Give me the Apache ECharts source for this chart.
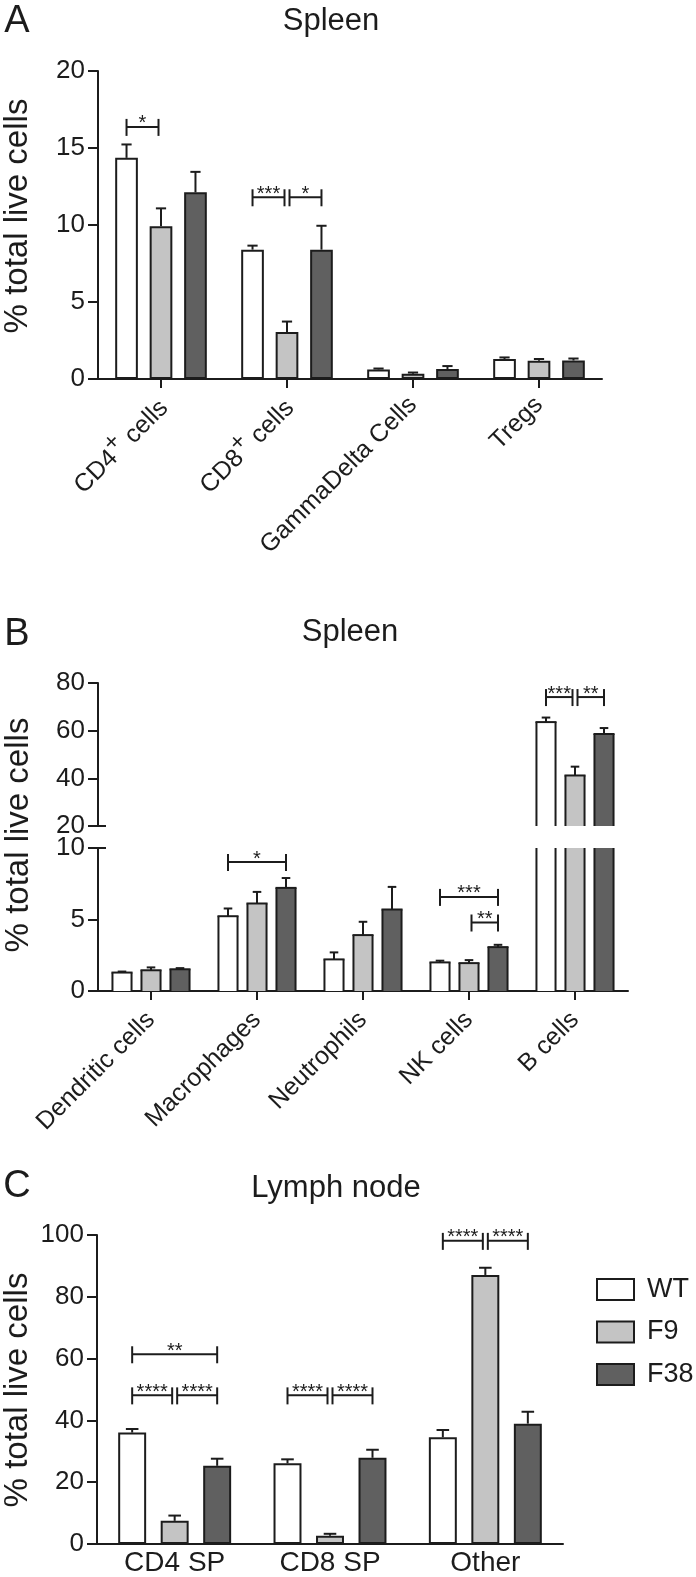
<!DOCTYPE html>
<html><head><meta charset="utf-8">
<script src="https://cdn.jsdelivr.net/npm/echarts@6/dist/echarts.min.js"></script>
<style>html,body{margin:0;padding:0;background:#fff}#c{width:696px;height:1577px}</style>
</head><body><div id="c"></div>
<script>
// ---------------- data ----------------
const groups = ['WT', 'F9', 'F38'];

// Panel A – Spleen (T cell subsets)
const aCategories = ['CD4⁺ cells', 'CD8⁺ cells', 'GammaDelta Cells', 'Tregs'];
const aWT     = [14.36, 8.40, 0.62, 1.30];
const aWTErr  = [0.87, 0.26, 0.06, 0.10];
const aF9     = [9.92, 3.05, 0.34, 1.19];
const aF9Err  = [1.16, 0.68, 0.08, 0.11];
const aF38    = [12.12, 8.40, 0.65, 1.20];
const aF38Err = [1.33, 1.55, 0.19, 0.13];
const aTicks  = [0, 5, 10, 15, 20];
// [category, from group, to group, bracket height, label]
const aSig = [[0, 0, 1, 16.37, '*'], [1, 0, 1, 11.8, '***'], [1, 1, 2, 11.8, '*']];

// Panel B – Spleen (innate / B cells), broken axis
const bCategories = ['Dendritic cells', 'Macrophages', 'Neutrophils', 'NK cells', 'B cells'];
const bWT     = [1.29, 5.23, 2.21, 2.00, 63.6];
const bWTErr  = [0.07, 0.54, 0.49, 0.12, 1.9];
const bF9     = [1.45, 6.12, 3.91, 1.95, 41.2];
const bF9Err  = [0.20, 0.81, 0.93, 0.21, 3.7];
const bF38    = [1.52, 7.21, 5.70, 3.07, 58.6];
const bF38Err = [0.08, 0.69, 1.58, 0.16, 2.5];
const bLowerTicks = [0, 5, 10];
const bUpperTicks = [20, 40, 60, 80];
const bSigLower = [[1, 0, 2, 9.02, '*'], [3, 0, 2, 6.58, '***'], [3, 1, 2, 4.79, '**']];
const bSigUpper = [[4, 0, 1, 74.1, '***'], [4, 1, 2, 74.1, '**']];

// Panel C – Lymph node
const cCategories = ['CD4 SP', 'CD8 SP', 'Other'];
const cWT     = [36.06, 26.1, 34.55];
const cWTErr  = [1.15, 1.3, 2.35];
const cF9     = [7.5, 2.7, 87.07];
const cF9Err  = [1.7, 0.6, 2.33];
const cF38    = [25.3, 27.9, 38.95];
const cF38Err = [2.3, 2.6, 3.85];
const cTicks  = [0, 20, 40, 60, 80, 100];
const cSig = [[0, 0, 2, 61.4, '**'], [0, 0, 1, 48.1, '****'], [0, 1, 2, 48.1, '****'],
              [1, 0, 1, 48.1, '****'], [1, 1, 2, 48.1, '****'],
              [2, 0, 1, 98.1, '****'], [2, 1, 2, 98.1, '****']];

// ---------------- style ----------------
const FONT = '"Liberation Sans", Arial, Helvetica, sans-serif';
const INK = '#1c1c1c';
const COLORS = ['#ffffff', '#c4c4c4', '#606060'];
const BAR_FRAC = 0.18;   // bar width as fraction of category band
const GAP_FRAC = 0.52;   // gap between bars as fraction of bar width
const CAP_FRAC = 0.45;   // error-bar cap width as fraction of bar width

function geom(api) {
  const band = api.size([1, 0])[0];
  const bw = band * BAR_FRAC;
  return { bw: bw, step: bw * (1 + GAP_FRAC) };
}

function errSeries(name, vals, errs, gi, xi, yi, keep) {
  const data = [];
  vals.forEach((v, i) => { if (!keep || keep(v)) data.push([i, v, errs[i]]); });
  return {
    type: 'custom', name: name + ' err', xAxisIndex: xi, yAxisIndex: yi, silent: true, z: 5,
    data: data,
    renderItem: function (params, api) {
      const g = geom(api);
      const cat = api.value(0), v = api.value(1), e = api.value(2);
      const p1 = api.coord([cat, v]), p2 = api.coord([cat, v + e]);
      const x = p1[0] + (gi - 1) * g.step;
      const hw = g.bw * CAP_FRAC / 2;
      const st = { stroke: INK, lineWidth: 2 };
      return { type: 'group', children: [
        { type: 'line', shape: { x1: x, y1: p1[1], x2: x, y2: p2[1] }, style: st },
        { type: 'line', shape: { x1: x - hw, y1: p2[1], x2: x + hw, y2: p2[1] }, style: st }
      ] };
    }
  };
}

function barSeries(name, vals, gi, xi, yi) {
  return {
    type: 'bar', name: name, xAxisIndex: xi, yAxisIndex: yi, data: vals,
    barWidth: (BAR_FRAC * 100) + '%', barGap: (GAP_FRAC * 100) + '%', silent: true,
    itemStyle: { color: COLORS[gi], borderColor: INK, borderWidth: 2 }
  };
}

// bars of the broken-axis panel: open ends where the axis is broken
function brokenBarSeries(name, vals, gi, xi, yi, range) {
  return {
    type: 'custom', name: name, xAxisIndex: xi, yAxisIndex: yi, silent: true, z: 3,
    data: vals.map((v, i) => [i, v]),
    renderItem: function (params, api) {
      const v = api.value(1), cat = api.value(0);
      if (v <= range[0]) return null;
      const g = geom(api);
      const top = Math.min(v, range[1]);
      const pb = api.coord([cat, range[0]]), pt = api.coord([cat, top]);
      const xc = pb[0] + (gi - 1) * g.step;
      const xl = xc - g.bw / 2, xr = xc + g.bw / 2;
      const st = { stroke: INK, lineWidth: 2 };
      const ch = [
        { type: 'rect', shape: { x: xl, y: pt[1], width: g.bw, height: pb[1] - pt[1] }, style: { fill: COLORS[gi] } },
        { type: 'line', shape: { x1: xl, y1: pb[1], x2: xl, y2: pt[1] }, style: st },
        { type: 'line', shape: { x1: xr, y1: pb[1], x2: xr, y2: pt[1] }, style: st }
      ];
      if (v <= range[1]) ch.push({ type: 'line', shape: { x1: xl - 1, y1: pt[1], x2: xr + 1, y2: pt[1] }, style: st });
      return { type: 'group', children: ch };
    }
  };
}

function sigSeries(list, xi, yi) {
  return {
    type: 'custom', name: 'sig', xAxisIndex: xi, yAxisIndex: yi, silent: true, z: 6,
    data: list.map(s => [s[0], s[3]]),
    renderItem: function (params, api) {
      const s = list[params.dataIndex];
      const g = geom(api);
      const p = api.coord([s[0], s[3]]);
      let x1 = p[0] + (s[1] - 1) * g.step, x2 = p[0] + (s[2] - 1) * g.step;
      if (s[1] === 1) x1 += 2.5;
      if (s[2] === 1) x2 -= 2.5;
      const y = p[1];
      const st = { stroke: INK, lineWidth: 2 };
      return { type: 'group', children: [
        { type: 'line', shape: { x1: x1, y1: y, x2: x2, y2: y }, style: st },
        { type: 'line', shape: { x1: x1, y1: y - 8, x2: x1, y2: y + 9 }, style: st },
        { type: 'line', shape: { x1: x2, y1: y - 8, x2: x2, y2: y + 9 }, style: st },
        { type: 'text', style: { x: (x1 + x2) / 2, y: y - 3, text: s[4], fontSize: 20, fontFamily: FONT,
          fill: INK, align: 'center', verticalAlign: 'middle' } }
      ] };
    }
  };
}

function breakMark(val, xi, yi) {
  return {
    type: 'custom', name: 'break', xAxisIndex: xi, yAxisIndex: yi, silent: true, z: 6,
    data: [[0, val]],
    renderItem: function (params, api) {
      const band = api.size([1, 0])[0];
      const p = api.coord([0, val]);
      const x0 = p[0] - band / 2;
      return { type: 'line', shape: { x1: x0, y1: p[1], x2: x0 + 8, y2: p[1] }, style: { stroke: INK, lineWidth: 2 } };
    }
  };
}

function valueAxis(gi, ticks) {
  return {
    type: 'value', gridIndex: gi, min: ticks[0], max: ticks[ticks.length - 1], interval: ticks[1] - ticks[0],
    splitLine: { show: false },
    axisLine: { show: true, lineStyle: { color: INK, width: 2 } },
    axisTick: { show: true, length: 10, lineStyle: { color: INK, width: 2 } },
    axisLabel: { fontSize: 26, fontFamily: FONT, color: INK, margin: 13 }
  };
}

// category label: the "⁺" is drawn as a raised, larger plus sign
function supFormatter(v) {
  if (v.indexOf('⁺') < 0) return v;
  return v.split('⁺').map(p => p ? '{n|' + p + '}' : '').join('{sup|+}');
}
const supRich = {
  n: { fontSize: 25, fontFamily: FONT, color: INK, lineHeight: 34, verticalAlign: 'bottom' },
  sup: { fontSize: 24, fontFamily: FONT, color: INK, lineHeight: 20, verticalAlign: 'top' }
};

function catAxis(gi, cats, margin, opts) {
  return Object.assign({
    type: 'category', gridIndex: gi, data: cats,
    axisLine: { show: true, lineStyle: { color: INK, width: 2 } },
    axisTick: { show: true, alignWithLabel: true, length: 9, lineStyle: { color: INK, width: 2 } },
    axisLabel: { rotate: 45, fontSize: 25, fontFamily: FONT, color: INK, margin: margin, interval: 0,
      formatter: supFormatter, rich: supRich }
  }, opts || {});
}

const aVals = [aWT, aF9, aF38], aErrs = [aWTErr, aF9Err, aF38Err];
const bVals = [bWT, bF9, bF38], bErrs = [bWTErr, bF9Err, bF38Err];
const cVals = [cWT, cF9, cF38], cErrs = [cWTErr, cF9Err, cF38Err];
const bUpperRange = [bUpperTicks[0], bUpperTicks[bUpperTicks.length - 1]];
const bLowerRange = [bLowerTicks[0], bLowerTicks[bLowerTicks.length - 1]];

const series = [];
groups.forEach((g, i) => {
  series.push(barSeries(g, aVals[i], i, 0, 0));
  series.push(errSeries(g, aVals[i], aErrs[i], i, 0, 0));
});
groups.forEach((g, i) => {
  series.push(brokenBarSeries(g + ' B', bVals[i], i, 1, 1, bUpperRange));
  series.push(brokenBarSeries(g + ' B', bVals[i], i, 2, 2, bLowerRange));
  series.push(errSeries(g, bVals[i], bErrs[i], i, 1, 1, v => v >= bUpperRange[0]));
  series.push(errSeries(g, bVals[i], bErrs[i], i, 2, 2, v => v <= bLowerRange[1]));
});
groups.forEach((g, i) => {
  series.push(barSeries(g, cVals[i], i, 3, 3));
  series.push(errSeries(g, cVals[i], cErrs[i], i, 3, 3));
});
series.push(sigSeries(aSig, 0, 0));
series.push(sigSeries(bSigUpper, 1, 1));
series.push(sigSeries(bSigLower, 2, 2));
series.push(sigSeries(cSig, 3, 3));
series.push(breakMark(bUpperRange[0], 1, 1));
series.push(breakMark(bLowerRange[1], 2, 2));

function txt(text, x, y, size, rot) {
  return { type: 'text', x: x, y: y, rotation: rot || 0, silent: true,
    style: { text: text, fontSize: size, fontFamily: FONT, fill: INK, align: 'center', verticalAlign: 'middle' } };
}

const option = {
  animation: false,
  backgroundColor: '#ffffff',
  grid: [
    { left: 98, top: 71, width: 504, height: 308 },
    { left: 98, top: 683, width: 530, height: 143 },
    { left: 98, top: 848, width: 530, height: 143 },
    { left: 97, top: 1235, width: 466, height: 312 }
  ],
  xAxis: [
    catAxis(0, aCategories, 22),
    catAxis(1, bCategories, 12, { show: false }),
    catAxis(2, bCategories, 25),
    catAxis(3, cCategories, 5, { axisTick: { show: false },
      axisLabel: { fontSize: 28, fontFamily: FONT, color: INK, margin: 5, interval: 0 } })
  ],
  yAxis: [ valueAxis(0, aTicks), valueAxis(1, bUpperTicks), valueAxis(2, bLowerTicks), valueAxis(3, cTicks) ],
  legend: {
    data: groups, orient: 'vertical', left: 596, top: 1276, padding: 0,
    itemWidth: 37, itemHeight: 21, itemGap: 15.5, icon: 'rect',
    textStyle: { fontSize: 27, fontFamily: FONT, color: INK, lineHeight: 21, padding: [0, 0, 0, 8] },
    itemStyle: { borderColor: INK, borderWidth: 2 }
  },
  graphic: [
    txt('A', 17, 22, 38), txt('B', 17, 635, 38), txt('C', 17, 1187, 38),
    txt('Spleen', 331, 21, 31), txt('Spleen', 350, 632, 31), txt('Lymph node', 336, 1188, 31),
    txt('% total live cells', 18, 216, 33, Math.PI / 2),
    txt('% total live cells', 19, 835, 33, Math.PI / 2),
    txt('% total live cells', 18, 1390, 33, Math.PI / 2)
  ],
  series: series
};

const chart = echarts.init(document.getElementById('c'), null, { renderer: 'canvas' });
chart.setOption(option);
</script>
</body></html>
